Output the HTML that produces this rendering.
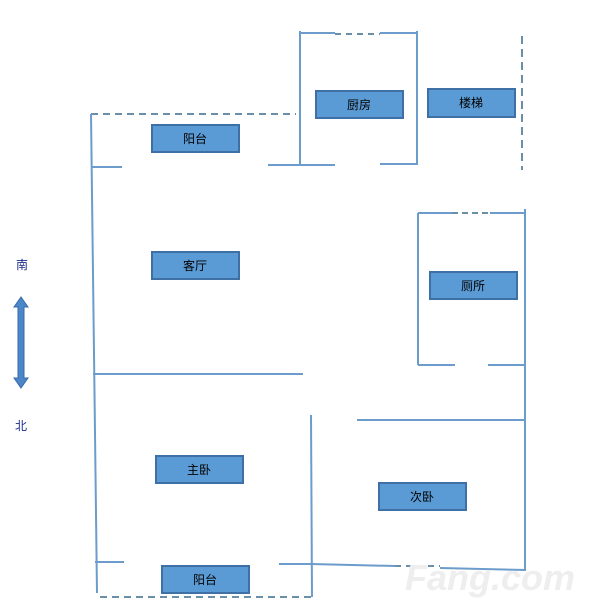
<!DOCTYPE html>
<html><head><meta charset="utf-8"><style>
html,body{margin:0;padding:0;background:#fff;}
svg{display:block;}
text{font-family:"Liberation Sans","Noto Sans CJK SC",sans-serif;font-size:12px;}
</style></head><body>
<svg width="600" height="615" viewBox="0 0 600 615" xmlns="http://www.w3.org/2000/svg">
<g stroke="#6b9ccc" stroke-width="2" fill="none">
<line x1="91" y1="114" x2="296" y2="114" stroke="#6a8fa8" stroke-dasharray="7,5"/>
<line x1="91" y1="114" x2="97" y2="593"/>
<line x1="91" y1="167" x2="122" y2="167"/>
<line x1="300" y1="31" x2="300" y2="165"/>
<line x1="300" y1="33" x2="335" y2="33"/>
<line x1="335" y1="34" x2="380" y2="34" stroke="#6a8fa8" stroke-dasharray="6,5"/>
<line x1="380" y1="33" x2="417" y2="33"/>
<line x1="417" y1="31" x2="417" y2="165"/>
<line x1="268" y1="165" x2="335" y2="165"/>
<line x1="380" y1="164" x2="417" y2="164"/>
<line x1="522" y1="36" x2="522" y2="170" stroke="#6a8fa8" stroke-dasharray="8,5"/>
<line x1="418" y1="213" x2="418" y2="365"/>
<line x1="418" y1="213" x2="452" y2="213"/>
<line x1="452" y1="213" x2="490" y2="213" stroke="#6a8fa8" stroke-dasharray="6,4"/>
<line x1="490" y1="213" x2="526" y2="213"/>
<line x1="525" y1="209" x2="525" y2="570"/>
<line x1="418" y1="365" x2="455" y2="365"/>
<line x1="488" y1="365" x2="525" y2="365"/>
<line x1="93" y1="374" x2="303" y2="374"/>
<line x1="311" y1="415" x2="312" y2="597"/>
<line x1="357" y1="420" x2="525" y2="420"/>
<line x1="95" y1="562" x2="124" y2="562"/>
<line x1="279" y1="564" x2="311" y2="564"/>
<line x1="311" y1="564" x2="395" y2="566"/>
<line x1="395" y1="566" x2="440" y2="566" stroke="#6a8fa8" stroke-dasharray="6,5"/>
<line x1="440" y1="568" x2="526" y2="570"/>
<line x1="100" y1="597" x2="312" y2="597" stroke="#6a8fa8" stroke-dasharray="7,5"/>
</g>
<g fill="#5b9bd5" stroke="#3e70a6" stroke-width="2">
<rect x="152" y="125" width="87" height="27"/>
<rect x="316" y="91" width="87" height="27"/>
<rect x="428" y="89" width="87" height="28"/>
<rect x="152" y="252" width="87" height="27"/>
<rect x="430" y="272" width="87" height="27"/>
<rect x="156" y="456" width="87" height="27"/>
<rect x="379" y="483" width="87" height="27"/>
<rect x="162" y="566" width="87" height="27"/>
</g>
<g fill="#000" text-anchor="middle">
<text x="195" y="143">阳台</text>
<text x="359" y="109">厨房</text>
<text x="471" y="107">楼梯</text>
<text x="195" y="270">客厅</text>
<text x="473" y="290">厕所</text>
<text x="199" y="474">主卧</text>
<text x="422" y="501">次卧</text>
<text x="205" y="584">阳台</text>
</g>
<text x="22" y="269" fill="#1a2a8a" text-anchor="middle">南</text>
<text x="21" y="430" fill="#1a2a8a" text-anchor="middle">北</text>
<polygon points="21,297 28,307 24,307 24,378 28,378 21,388 14,378 18,378 18,307 14,307" fill="#4a86c8" stroke="#3a6aa8" stroke-width="1"/>
<text x="490" y="590" fill="#eeeeee" font-size="36" font-weight="bold" style="font-size:36px;font-style:italic" text-anchor="middle">Fang.com</text>
</svg>
</body></html>
